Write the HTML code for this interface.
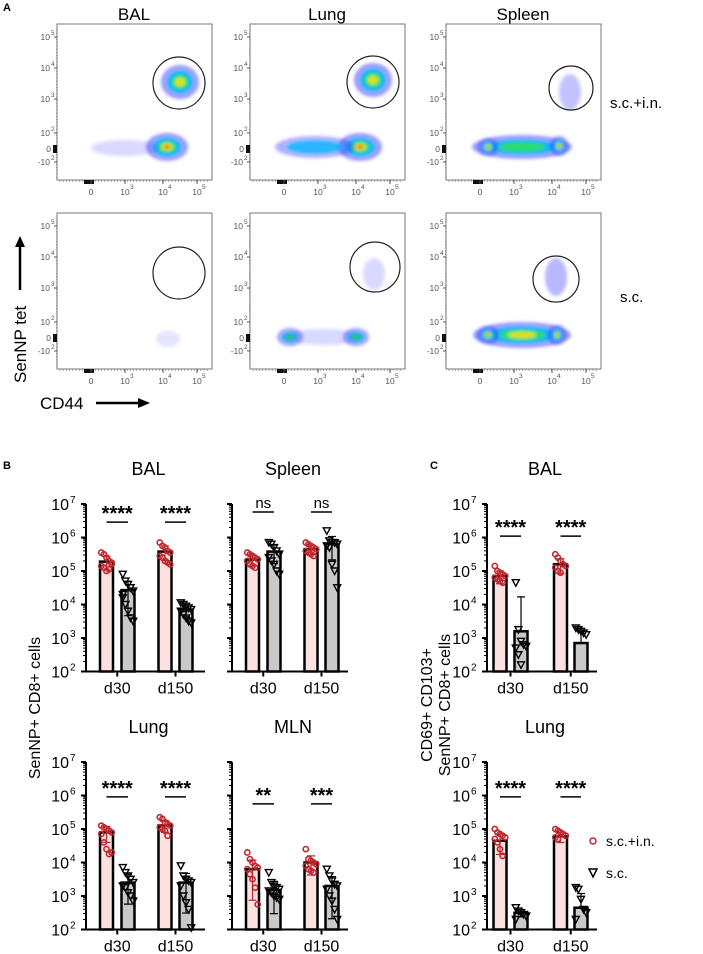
<!DOCTYPE html>
<html><head><meta charset="utf-8"><style>
html,body{margin:0;padding:0;background:#fff;}
svg{display:block;font-family:"Liberation Sans",sans-serif;}
</style></head><body>
<svg id="fig" width="703" height="954" viewBox="0 0 703 954" xmlns="http://www.w3.org/2000/svg">
<defs>
<filter id="blur" x="-50%" y="-50%" width="200%" height="200%"><feGaussianBlur stdDeviation="1.6"/></filter>
</defs>
<g id="flow"></g>
<g id="bars"></g>
<text x="3" y="11" font-size="11" font-weight="bold">A</text>
<text x="3" y="469" font-size="11" font-weight="bold">B</text>
<text x="430" y="469" font-size="11" font-weight="bold">C</text>
<text x="610" y="108" font-size="15">s.c.+i.n.</text>
<text x="620" y="302" font-size="15">s.c.</text>
<text transform="translate(26,383) rotate(-90)" font-size="17">SenNP tet</text>
<path d="M20,290 L20,245" stroke="#000" stroke-width="2.5"/>
<path d="M15,247 L20,236 L25,247 Z" fill="#000"/>
<text x="40" y="409" font-size="17">CD44</text>
<path d="M96,403 L140,403" stroke="#000" stroke-width="2.5"/>
<path d="M138,398 L150,403 L138,408 Z" fill="#000"/>
<text transform="translate(40,708) rotate(-90)" font-size="16" text-anchor="middle">SenNP+ CD8+ cells</text>
<text transform="translate(432,705) rotate(-90)" font-size="16" text-anchor="middle">CD69+ CD103+</text>
<text transform="translate(450,705) rotate(-90)" font-size="16" text-anchor="middle">SenNP+ CD8+ cells</text>
<g>
<circle cx="593" cy="841" r="3" fill="none" stroke="#c0272d" stroke-width="1.5"/>
<text x="606" y="846" font-size="14">s.c.+i.n.</text>
<path d="M589,869 L597,869 L593,877 Z" fill="none" stroke="#000" stroke-width="1.5"/>
<text x="606" y="878" font-size="14">s.c.</text>
</g>
</svg>
<script>
// ---------- bar chart data (log10 values) ----------
const categories = ["d30", "d150"];
const panelTitles = ["BAL", "Spleen", "Lung", "MLN", "BAL", "Lung"];
// means: [d30 s.c.+i.n., d30 s.c., d150 s.c.+i.n., d150 s.c.]
const meansBAL = [5.28, 4.43, 5.58, 3.85];
const meansSpleen = [5.34, 5.58, 5.65, 5.81];
const meansLung = [4.9, 3.4, 5.11, 3.4];
const meansMLN = [3.8, 3.18, 4.0, 3.3];
const meansCBAL = [4.85, 3.2, 5.2, 2.85];
const meansCLung = [4.65, 2.5, 4.78, 2.65];
const ptsBAL = [[5.55,5.5,5.4,5.3,5.2,5.15,5.1,5.0,5.05,5.25],[4.9,4.7,4.6,4.5,4.4,4.2,4.0,3.8,3.6,3.5,4.3],[5.85,5.75,5.7,5.6,5.55,5.45,5.4,5.3,5.25,5.2],[4.05,4.0,3.95,3.9,3.85,3.8,3.7,3.6,3.5,3.45]];
const ptsSpleen = [[5.55,5.5,5.45,5.4,5.35,5.3,5.2,5.15,5.1],[5.85,5.8,5.7,5.6,5.5,5.4,5.3,5.2,5.0,4.9],[5.85,5.8,5.75,5.7,5.65,5.6,5.55,5.5,5.45],[6.2,5.9,5.85,5.85,5.8,5.75,5.7,5.2,5.0,4.5]];
const ptsLung = [[5.1,5.05,5.0,4.95,4.9,4.85,4.6,4.4,4.25,4.3],[3.85,3.7,3.6,3.5,3.4,3.3,3.25,3.1,3.0,2.85],[5.35,5.3,5.2,5.15,5.1,5.05,5.0,4.95,4.8],[3.9,3.6,3.5,3.45,3.4,3.3,3.0,2.8,2.6,2.05]];
const ptsMLN = [[4.3,4.1,4.0,3.9,3.85,3.8,3.65,3.5,3.25,2.75],[3.7,3.4,3.3,3.25,3.2,3.15,3.1,3.0,2.95,2.9],[4.4,4.1,4.05,4.0,3.95,3.9,3.8,3.75,3.7],[3.8,3.6,3.45,3.35,3.3,3.2,3.0,2.85,2.6,2.3]];
const ptsCBAL = [[5.15,5.0,4.95,4.9,4.85,4.8,4.75,4.7,4.65],[4.65,3.25,2.9,2.8,2.75,2.7,2.5,2.2],[5.5,5.4,5.3,5.2,5.15,5.1,5.0,4.95],[3.3,3.25,3.2,3.15,3.1]];
const ptsCLung = [[5.0,4.9,4.85,4.8,4.75,4.7,4.6,4.4,4.2],[2.65,2.55,2.5,2.45,2.4,2.3],[5.0,4.95,4.9,4.85,4.8,4.75,4.7],[3.25,3.2,2.9,2.6,2.5,2.3]];
const sigLabels = [["****","****"],["ns","ns"],["****","****"],["**","***"],["****","****"],["****","****"]];
const sigLevels = [[6.46,6.46],[6.76,6.76],[5.96,5.96],[5.75,5.75],[6.04,6.04],[5.96,5.96]];
const yTickLabels = ["2","3","4","5","6","7"];

const NS = "http://www.w3.org/2000/svg";
function mk(tag, attrs, parent){const e=document.createElementNS(NS,tag);for(const k in attrs)e.setAttribute(k,attrs[k]);parent.appendChild(e);return e;}
const barsG = document.getElementById("bars");
const flowG = document.getElementById("flow");

const layoutB = [20.5, 42, 79, 100], layoutC = [13, 34, 73.5, 94];
const panels = [
 {ax:86, top:504, off:layoutB, len:119, labels:true, means:meansBAL, pts:ptsBAL},
 {ax:232, top:504, off:layoutB, len:116, labels:false, means:meansSpleen, pts:ptsSpleen},
 {ax:86, top:762, off:layoutB, len:119, labels:true, means:meansLung, pts:ptsLung},
 {ax:232, top:762, off:layoutB, len:116, labels:false, means:meansMLN, pts:ptsMLN},
 {ax:487, top:504, off:layoutC, len:110, labels:true, means:meansCBAL, pts:ptsCBAL},
 {ax:487, top:762, off:layoutC, len:110, labels:true, means:meansCLung, pts:ptsCLung}
];
const DEC = 33.5;
panels.forEach((p, pi) => {
  const g = mk("g", {}, barsG);
  
  
  const y = v => p.top + (7 - v) * DEC;
  const base = y(2);
  const t = mk("text", {x: p.ax + p.len/2 + 3, y: p.top - 29, "font-size": 18, "text-anchor": "middle"}, g);
  t.textContent = panelTitles[pi];
  
  
  p.means.forEach((m, i) => {
    const cx = p.ax + p.off[i];
    const r = mk("rect", {x: cx - 6.5, y: y(m), width: 13, height: base - y(m), fill: i%2 ? "#c9c9c9" : "#fde1e1", stroke: "#000", "stroke-width": 2.5}, g);
    
    
    const lin = p.pts[i].map(v => Math.pow(10, v));
    const mean = Math.pow(10, m);
    const sd = Math.sqrt(lin.reduce((a, v) => a + (v - mean) * (v - mean), 0) / lin.length);
    const hi = Math.log10(mean + sd), lo = mean - sd > 100 ? Math.log10(mean - sd) : m;
    const col = i%2 ? "#000" : "#c0272d";
    mk("path", {d: `M${cx},${y(lo)}L${cx},${y(hi)}M${cx-4},${y(hi)}L${cx+4},${y(hi)}M${cx-4},${y(lo)}L${cx+4},${y(lo)}`, stroke: col, "stroke-width": 1.2, fill: "none"}, g);
    p.pts[i].forEach((v, k) => {
      const px = cx + ((k % 5) - 2) * 2.6, py = y(v);
      let e;
      if (i % 2 === 0) e = mk("circle", {cx: px, cy: py, r: 2.6, fill: "none", stroke: "#c0272d", "stroke-width": 1.6}, g);
      else e = mk("path", {d: `M${px-3.5},${py-3}L${px+3.5},${py-3}L${px},${py+3.5}Z`, fill: "none", stroke: "#000", "stroke-width": 1.4}, g);
      
      
    });
  });
  mk("path", {d: `M${p.ax},${p.top}L${p.ax},${base}L${p.ax + p.len},${base}`, stroke: "#000", "stroke-width": 2, fill: "none"}, g);
  for (let d = 2; d <= 7; d++) {
    mk("line", {x1: p.ax - 5, x2: p.ax, y1: y(d), y2: y(d), stroke: "#000", "stroke-width": 2}, g);
    if (d < 7) for (let m = 2; m < 10; m++) mk("line", {x1: p.ax - 3, x2: p.ax, y1: y(d + Math.log10(m)), y2: y(d + Math.log10(m)), stroke: "#000", "stroke-width": 1}, g);
    if (p.labels) {
      const tl = mk("text", {x: p.ax - 17, y: y(d) + 6, "font-size": 16, "text-anchor": "end"}, g);
      tl.textContent = "10";
      
      
      const sp = mk("text", {x: p.ax - 16, y: y(d) - 1, "font-size": 10}, g);
      sp.textContent = yTickLabels[d - 2];
    }
  }
  categories.forEach((c, ci) => {
    const cx = p.ax + (p.off[ci*2] + p.off[ci*2+1]) / 2;
    mk("line", {x1: cx, x2: cx, y1: base, y2: base + 5, stroke: "#000", "stroke-width": 2}, g);
    const tl = mk("text", {x: cx, y: base + 22, "font-size": 16, "text-anchor": "middle"}, g);
    tl.textContent = c;
    
    
    const x1 = p.ax + p.off[ci*2], x2 = p.ax + p.off[ci*2+1];
    const ly = y(sigLevels[pi][ci]);
    mk("line", {x1: x1, x2: x2, y1: ly, y2: ly, stroke: "#000", "stroke-width": 1.5}, g);
    const s = sigLabels[pi][ci];
    const st = mk("text", {x: (x1 + x2) / 2, y: s === "ns" ? ly - 4 : ly - 2, "font-size": s === "ns" ? 15 : 20, "font-weight": s === "ns" ? "normal" : "bold", "text-anchor": "middle"}, g);
    st.textContent = s;
    
    
  });
});

// ---------- flow cytometry panels ----------
const flowTitles = ["BAL", "Lung", "Spleen"];
const flowXOff = [0, 193, 389];
const flowYOff = [0, 189];
const flowClusters = [
 [[[180,82,17,15,3,1],[167,147,19,12,4,1],[125,148,32,6,0,0.35]],
  [[180,80,17,15,3,1],[167,147,20,12,4,1],[122,147,38,9,1,0.8]],
  [[181,92,9,16,0,0.6],[133,147,48,10,2,1],[99,147,8,7,4,1],[170,146,7,8,4,1]]],
 [[[168,150,10,6,0,0.25]],
  [[97,148,11,7,2,0.9],[163,148,11,7,2,0.9],[130,148,38,6,0,0.35],[181,85,9,14,0,0.35]],
  [[133,146,47,11,3,1],[99,146,9,7,4,1],[168,146,7,8,4,1],[167,88,9,17,0,0.7]]]
];
const gates = [[[179,83,26],[180,82,26],[182,88,22]],[[179,84,26],[182,78,25],[167,90,23]]];
const layerCol = ["#3535ff","#00b8ff","#30e060","#f2e400","#ff2a00"];
const layerScale = [1, 0.75, 0.5, 0.3, 0.15];
const flowYTicks = [[37,"10","5"],[68,"10","4"],[99,"10","3"],[133,"10","2"],[149,"0",""],[162,"-10","2"]];
const flowXTicks = [[91,"0",""],[125,"10","3"],[163,"10","4"],[197,"10","5"]];
for (let r = 0; r < 2; r++) for (let c = 0; c < 3; c++) {
  const dx = flowXOff[c], dy = flowYOff[r];
  const g = mk("g", {transform: `translate(${dx},${dy})`}, flowG);
  
  
  if (r === 0) {
    const t = mk("text", {x: 134, y: 20, "font-size": 17, "text-anchor": "middle"}, g);
    t.textContent = flowTitles[c];
    
    
  }
  const dens = mk("g", {filter: "url(#blur)"}, g);
  flowClusters[r][c].forEach(cl => {
    for (let l = 0; l <= cl[4]; l++) mk("ellipse", {cx: cl[0], cy: cl[1], rx: cl[2] * layerScale[l] + (l ? 0 : 2), ry: cl[3] * layerScale[l] + (l ? 0 : 2), fill: layerCol[l], opacity: (l ? 0.9 : 0.5) * cl[5]}, dens);
  });
  const gt = gates[r][c];
  const gc = mk("circle", {cx: gt[0], cy: gt[1], r: gt[2], fill: "none", stroke: "#222", "stroke-width": 1.2}, g);
  
  
  mk("rect", {x: 57, y: 24, width: 155, height: 156, fill: "none", stroke: "#777", "stroke-width": 1}, g);
  flowYTicks.forEach(tk => {
    mk("line", {x1: 54, x2: 57, y1: tk[0], y2: tk[0], stroke: "#555", "stroke-width": 1}, g);
    const tl = mk("text", {x: tk[2] ? 50 : 51, y: tk[0] + 3, "font-size": 8.5, fill: "#555", "text-anchor": "end"}, g);
    tl.textContent = tk[1];
    if (tk[2]) { const s = mk("text", {x: 51, y: tk[0] - 2, "font-size": 6.5, fill: "#555"}, g); s.textContent = tk[2]; }
  });
  for (let yy = 30; yy < 178; yy += 3.2) mk("line", {x1: 56, x2: 57, y1: yy, y2: yy, stroke: "#777", "stroke-width": 0.6}, g);
  mk("rect", {x: 53, y: 145, width: 4, height: 8, fill: "#111"}, g);
  for (let xx = 60; xx < 210; xx += 3.2) mk("line", {x1: xx, x2: xx, y1: 180, y2: 182, stroke: "#777", "stroke-width": 0.6}, g);
  mk("rect", {x: 84, y: 180, width: 10, height: 4, fill: "#111"}, g);
  flowXTicks.forEach(tk => {
    mk("line", {x1: tk[0], x2: tk[0], y1: 180, y2: 184, stroke: "#555", "stroke-width": 1}, g);
    const tl = mk("text", {x: tk[0], y: 195, "font-size": 8.5, fill: "#555", "text-anchor": "middle"}, g);
    tl.textContent = tk[1];
    if (tk[2]) { const s = mk("text", {x: tk[0] + 5, y: 189, "font-size": 6.5, fill: "#555"}, g); s.textContent = tk[2]; }
  });
}
</script>
</body></html>
